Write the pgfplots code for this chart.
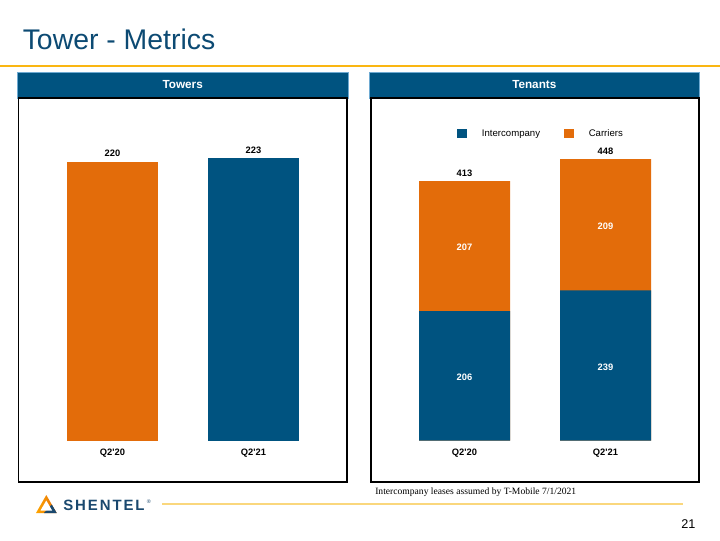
\documentclass[border=0pt]{standalone}
\usepackage{pgfplots}
\pgfplotsset{compat=1.18}
\usepackage{fontspec}
\setmainfont{Liberation Sans}
\newfontfamily\seriffont{Liberation Serif}
\definecolor{barblue}{RGB}{0,83,128}
\definecolor{barorange}{RGB}{227,108,10}
\definecolor{titleblue}{RGB}{12,74,115}
\definecolor{ruleorange}{RGB}{250,182,18}
\definecolor{footyellow}{RGB}{250,215,125}
\definecolor{hdrborder}{RGB}{110,170,210}
\definecolor{logoblue}{RGB}{26,72,110}
\begin{document}
\begin{tikzpicture}
\begin{scope}[x=0.75pt,y=-0.75pt,yshift=405pt]
\fill[white] (0,0) rectangle (720,540);
% title
\node[anchor=base west,inner sep=0pt,text=titleblue,font=\fontsize{21.3}{26}\selectfont] at (22.5,49.3) {Tower - Metrics};
\draw[ruleorange,line width=1.5pt] (0,66) -- (720,66);
% headers
\draw[hdrborder,fill=barblue,line width=0.5pt] (17.5,72) rectangle (348,98);
\draw[hdrborder,fill=barblue,line width=0.5pt] (369.5,72) rectangle (699,98);
\node[text=white,font=\bfseries\fontsize{8.8}{10}\selectfont] at (182.7,84.5) {Towers};
\node[text=white,font=\bfseries\fontsize{8.8}{10}\selectfont] at (534.3,84.5) {Tenants};
% panel boxes
\draw[black,line width=1pt] (18.5,98) rectangle (347,482);
\draw[black,line width=1pt] (371,98) rectangle (699,482);
% footer
\node[anchor=base west,inner sep=0pt,font=\seriffont\fontsize{7.2}{9}\selectfont] at (375,494) {Intercompany leases assumed by T-Mobile 7/1/2021};
\draw[footyellow,line width=1.5pt] (162,504) -- (683,504);
\node[anchor=base east,inner sep=0pt,font=\fontsize{9.5}{11}\selectfont] at (695.7,528.3) {21};
% logo
\shade[left color=orange!70!yellow,right color=barorange] (36,513) -- (46.3,495) -- (56.7,513) -- cycle;
\fill[logoblue] (44,513) -- (56.7,513) -- (51.8,504.5) -- cycle;
\fill[white] (40.5,510.5) -- (46.3,500.5) -- (52.1,510.5) -- cycle;
\node[anchor=base west,inner sep=0pt,text=logoblue,font=\bfseries\fontsize{11.2}{13}\selectfont\addfontfeature{LetterSpace=13}] at (63,510.7) {SHENTEL};
\node[anchor=base west,inner sep=0pt,text=logoblue,font=\fontsize{4}{5}\selectfont] at (146.5,503.5) {®};
\end{scope}

% Towers chart
\begin{axis}[
  at={(31.5pt,74.6pt)}, anchor=south west,
  scale only axis, width=211.5pt, height=208.9pt,
  xmin=-0.5, xmax=1.5, ymin=0, ymax=220,
  ybar, bar width=68.25pt, bar shift=0pt,
  axis x line*=bottom, axis y line=none,
  x axis line style={draw=none},
  xtick={0,1}, xticklabels={Q2\textquotesingle20,Q2\textquotesingle21},
  major tick length=0pt, ytick=\empty,
  xticklabel style={font=\bfseries\fontsize{7}{8}\selectfont, anchor=north, inner sep=0pt, yshift=-6.5pt},
  clip=false,
  /pgf/number format/assume math mode=true,
  nodes near coords,
  every node near coord/.append style={font=\bfseries\fontsize{7}{8}\selectfont, inner sep=0pt, anchor=south, yshift=3.5pt},
]
\addplot[fill=barorange, draw=none] coordinates {(0,220)};
\addplot[fill=barblue, draw=none] coordinates {(1,223)};
\end{axis}

% Tenants chart
\begin{axis}[
  at={(295.5pt,74.6pt)}, anchor=south west,
  scale only axis, width=211.5pt, height=194.6pt,
  xmin=-0.5, xmax=1.5, ymin=0, ymax=413,
  ybar, bar width=68.25pt, bar shift=0pt,
  axis x line*=bottom, axis y line=none,
  x axis line style={draw=none},
  xtick={0,1}, xticklabels={Q2\textquotesingle20,Q2\textquotesingle21},
  major tick length=0pt, ytick=\empty,
  xticklabel style={font=\bfseries\fontsize{7}{8}\selectfont, anchor=north, inner sep=0pt, yshift=-6.5pt},
  clip=false,
  /pgf/number format/assume math mode=true,
  legend image code/.code={\fill[#1] (0pt,-3.4pt) rectangle (7.5pt,3.4pt);},
  legend columns=2,
  legend style={at={(0.2234,1.183)}, anchor=west, draw=none, fill=none, inner sep=0pt,
    font=\fontsize{7.2}{8.5}\selectfont,
    nodes={inner sep=0pt, text height=5.2pt, text depth=1.5pt},
    /tikz/every odd column/.append style={column sep=11pt},
    /tikz/every even column/.append style={column sep=18pt}},
]
\addlegendimage{fill=barblue, draw=none}
\addlegendimage{fill=barorange, draw=none}
\addlegendentry{Intercompany}
\addlegendentry{Carriers}
% total height (Intercompany + Carriers): 413, 448
\addplot[fill=barorange, draw=none, forget plot, nodes near coords,
  every node near coord/.append style={font=\bfseries\fontsize{7}{8}\selectfont, inner sep=0pt, anchor=south, yshift=3.5pt}]
  coordinates {(0,413) (1,448)};
% Intercompany: 206, 239
\addplot[fill=barblue, draw=none, forget plot] coordinates {(0,206) (1,239)};
% segment labels
\addplot[draw=none, fill=none, forget plot, nodes near coords, point meta=explicit symbolic,
  every node near coord/.style={anchor=center, inner sep=0pt, yshift=-1pt, text=white, font=\bfseries\fontsize{7}{8}\selectfont}]
  table[meta=label] {
x y label
0 103 206
0 309.5 207
1 119.5 239
1 343.5 209
};
\end{axis}

\begin{scope}[x=0.75pt,y=-0.75pt,yshift=405pt]
\pgfresetboundingbox
\path[use as bounding box] (0,0) rectangle (720,540);
\end{scope}
\end{tikzpicture}
\end{document}
